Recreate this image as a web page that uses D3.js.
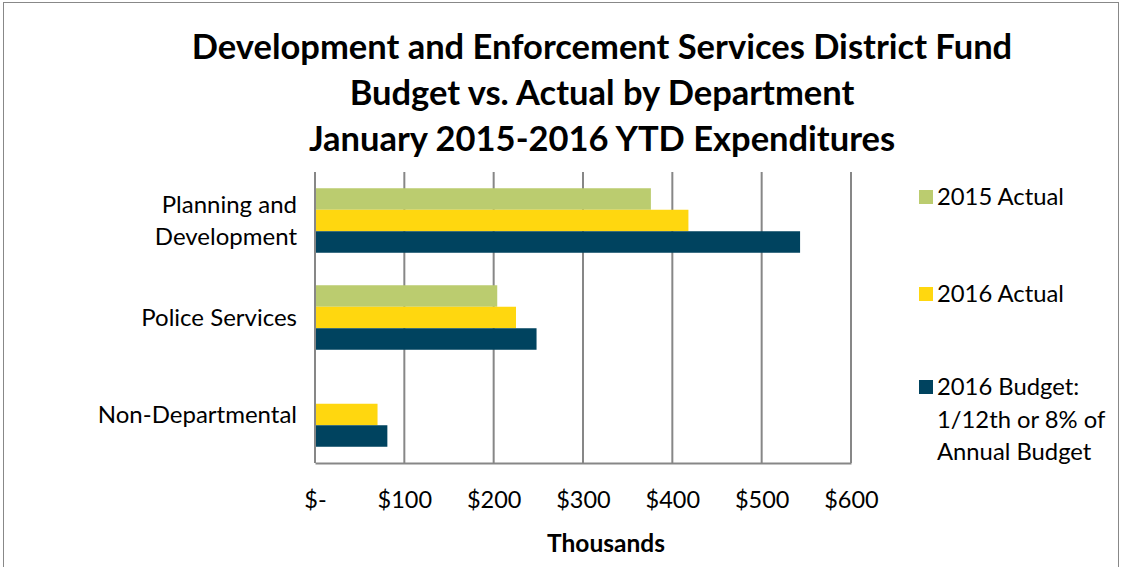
<!DOCTYPE html>
<html><head><meta charset="utf-8">
<script src="https://cdn.jsdelivr.net/npm/d3@7"></script>
<style>body{margin:0;background:#fff}svg{display:block}text{font-family:Lato,"Open Sans",sans-serif}</style>
</head><body><svg id="c" width="1123" height="567"></svg>
<script>
const categories = ["Planning and Development", "Police Services", "Non-Departmental"];
const categoryLines = [["Planning and", "Development"], ["Police Services"], ["Non-Departmental"]];
const seriesNames = ["2015 Actual", "2016 Actual", "2016 Budget"];
const legendLines = [["2015 Actual"], ["2016 Actual"], ["2016 Budget:", "1/12th or 8% of", "Annual Budget"]];
const actual2015 = [376, 204, 0];
const actual2016 = [418, 225, 70];
const budget2016 = [543, 248, 81];
const tickValues = [0, 100, 200, 300, 400, 500, 600];
const tickLabels = ["$-", "$100", "$200", "$300", "$400", "$500", "$600"];
const titleLines = ["Development and Enforcement Services District Fund", "Budget vs. Actual by Department", "January 2015-2016 YTD Expenditures"];
const colors = ["#BBCC6F", "#FFD70F", "#00435F"];

const svg = d3.select("#c");
svg.append("rect").attr("x", 3.5).attr("y", 2.5).attr("width", 1115).attr("height", 580)
  .attr("fill", "#fff").attr("stroke", "#888").attr("stroke-width", 1);

const T = [47, 93, 139];
svg.selectAll(".title").data(titleLines).join("text")
  .attr("x", 602).attr("y", (d, i) => T[i]).attr("dy", "0.35em")
  .attr("text-anchor", "middle").attr("font-size", 34.5).attr("font-weight", "bold").attr("fill", "#000")
  .text(d => d);

const x0 = 315, x1 = 851, y0 = 172, y1 = 463;
const x = d3.scaleLinear().domain([0, 600]).range([x0, x1]);
const y = d3.scaleBand().domain(categories).range([y0, y1]).paddingInner(0.335).paddingOuter(0.1675);
const ys = d3.scaleBand().domain(seriesNames).range([0, y.bandwidth()]);

// gridlines
svg.append("g").selectAll("line").data(tickValues).join("line")
  .attr("x1", d => x(d)).attr("x2", d => x(d)).attr("y1", y0).attr("y2", y1)
  .attr("stroke", "#878787").attr("stroke-width", 2);

const seriesData = [actual2015, actual2016, budget2016];
seriesData.forEach((vals, si) => {
  svg.append("g").selectAll("rect").data(vals).join("rect")
    .attr("x", x(0)).attr("y", (d, i) => y(categories[i]) + ys(seriesNames[si]))
    .attr("width", d => x(d) - x(0)).attr("height", ys.bandwidth())
    .attr("fill", colors[si]);
});

// axes
const xAxis = d3.axisBottom(x).tickValues(tickValues).tickFormat((d, i) => tickLabels[i]).tickSize(0).tickPadding(25);
const gx = svg.append("g").attr("transform", `translate(0,${y1})`).call(xAxis);
gx.select(".domain").attr("stroke", "#878787").attr("stroke-width", 2);
gx.selectAll("text").attr("font-size", 23.5).attr("fill", "#000").attr("font-family", "Lato").attr("y", 37).attr("dy", "0.35em");

svg.append("line").attr("x1", x0).attr("x2", x0).attr("y1", y0).attr("y2", y1).attr("stroke", "#878787").attr("stroke-width", 2);

// category labels
categories.forEach((c, i) => {
  const lines = categoryLines[i];
  const cy = y(c) + y.bandwidth() / 2;
  lines.forEach((l, j) => {
    svg.append("text").attr("x", 297).attr("y", cy + (j - (lines.length - 1) / 2) * 32).attr("dy", "0.35em")
      .attr("text-anchor", "end").attr("font-size", 24).attr("fill", "#000").text(l);
  });
});

svg.append("text").attr("x", 606).attr("y", 543).attr("dy", "0.35em").attr("text-anchor", "middle")
  .attr("font-size", 24.5).attr("font-weight", "bold").text("Thousands");

// legend
const LY = [197, 294, 387];
legendLines.forEach((lines, i) => {
  svg.append("rect").attr("x", 919).attr("y", LY[i] - 7).attr("width", 14).attr("height", 14).attr("fill", colors[i]);
  lines.forEach((l, j) => {
    svg.append("text").attr("x", 937).attr("y", LY[i] + j * 32.5).attr("dy", "0.35em")
      .attr("font-size", 23.8).attr("fill", "#000").text(l);
  });
});
</script></body></html>
